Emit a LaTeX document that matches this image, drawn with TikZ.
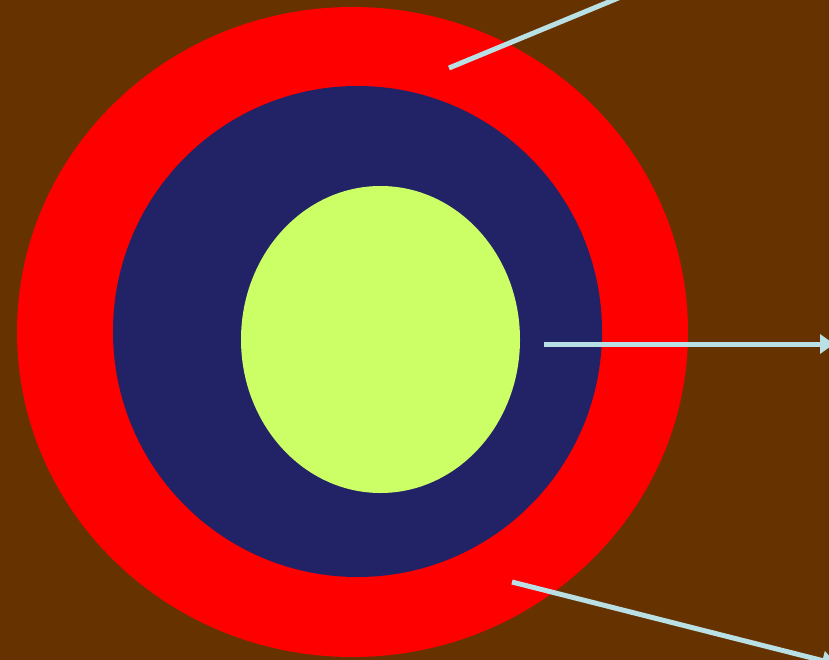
\documentclass[tikz,border=0pt]{standalone}
\usetikzlibrary{arrows.meta}
\definecolor{bgbrown}{HTML}{663300}
\definecolor{ringred}{HTML}{FF0000}
\definecolor{ringnavy}{HTML}{222266}
\definecolor{corelime}{HTML}{CCFF66}
\definecolor{pointer}{RGB}{185,224,228}
\begin{document}
\begin{tikzpicture}[x=1pt,y=-1pt,
  pointerline/.style={draw=pointer,line width=5pt},
  pointerarrow/.style={pointerline,-{Triangle[length=14pt,width=19pt]}}]
\useasboundingbox (0,0) rectangle (829,660);
\clip (0,0) rectangle (829,660);
\fill[bgbrown] (0,0) rectangle (829,660);
\fill[ringred] (352.5,332) ellipse [x radius=335.5, y radius=325];
\fill[ringnavy] (357.5,331.5) ellipse [x radius=244.5, y radius=245.5];
\fill[corelime] (380.5,339.5) ellipse [x radius=139.5, y radius=153.5];
\coordinate (a1) at (449,68);
\coordinate (a2) at (686,-30);
\coordinate (b1) at (544,344);
\coordinate (b2) at (834,344);
\coordinate (c1) at (512,582);
\coordinate (c2) at (836,664);
\draw[pointerarrow] (a1) -- (a2);
\draw[pointerarrow] (b1) -- (b2);
\draw[pointerarrow] (c1) -- (c2);
\end{tikzpicture}
\end{document}
